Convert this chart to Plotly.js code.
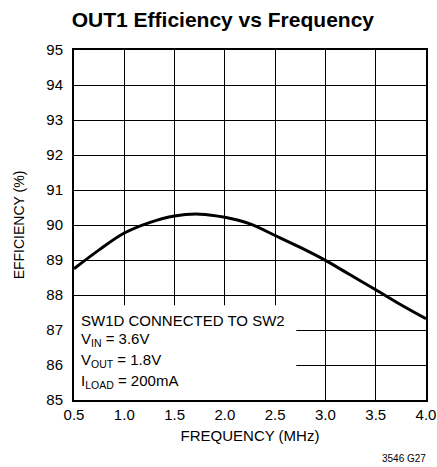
<!DOCTYPE html>
<html>
<head>
<meta charset="utf-8">
<script src="https://cdn.plot.ly/plotly-3.0.1.min.js"></script>
<style>html,body{margin:0;padding:0;background:#fff;}#chart{width:437px;height:467px;}</style>
</head>
<body>
<div id="chart"></div>
<script>
// Data
const frequencyMHz = [0.5, 0.75, 1.0, 1.25, 1.5, 1.75, 2.0, 2.25, 2.5, 2.75, 3.0, 3.25, 3.5, 3.75, 4.0];
const efficiencyPct = [88.75, 89.29, 89.77, 90.07, 90.26, 90.31, 90.22, 90.03, 89.70, 89.36, 88.99, 88.57, 88.15, 87.72, 87.32];
const xTickVals = [0.5, 1.0, 1.5, 2.0, 2.5, 3.0, 3.5, 4.0];
const xTickText = ['0.5', '1.0', '1.5', '2.0', '2.5', '3.0', '3.5', '4.0'];
const yTickVals = [85, 86, 87, 88, 89, 90, 91, 92, 93, 94, 95];
const noteLines = ['SW1D CONNECTED TO SW2', 'V<sub>IN</sub> = 3.6V', 'V<sub>OUT</sub> = 1.8V', 'I<sub>LOAD</sub> = 200mA'];
const noteY = [87.28, 86.74, 86.12, 85.52];

const FONT = '"Liberation Sans", Arial, sans-serif';

const trace = {
  x: frequencyMHz, y: efficiencyPct, type: 'scatter', mode: 'lines',
  line: {color: '#000', width: 3, shape: 'spline', smoothing: 1},
  hoverinfo: 'skip', showlegend: false
};

const annotations = noteLines.map((t, i) => ({
  x: 0.55, y: noteY[i], xref: 'x', yref: 'y', text: t, showarrow: false,
  xanchor: 'left', yanchor: 'middle', font: {family: FONT, size: 15, color: '#000'}
}));
annotations.push({
  x: 1, y: 0, xref: 'paper', yref: 'paper', yshift: -58, xshift: 2, text: '3546 G27', showarrow: false,
  xanchor: 'right', yanchor: 'middle', font: {family: FONT, size: 10, color: '#000'}
});

const layout = {
  width: 437, height: 467,
  margin: {l: 74, r: 11, t: 50, b: 67},
  paper_bgcolor: '#fff', plot_bgcolor: '#fff',
  font: {family: FONT, size: 15, color: '#000'},
  title: {text: '<b>OUT1 Efficiency vs Frequency</b>', x: 0.51, xanchor: 'center', y: 0.957, yanchor: 'middle',
          font: {family: FONT, size: 21, color: '#000'}},
  xaxis: {
    range: [0.5, 4.0], tickvals: xTickVals, ticktext: xTickText, ticks: '',
    showgrid: true, gridcolor: '#000', gridwidth: 1, zeroline: false,
    showline: true, linecolor: '#000', linewidth: 2, mirror: true,
    tickfont: {family: FONT, size: 15, color: '#000'},
    title: {text: 'FREQUENCY (MHz)', font: {family: FONT, size: 15, color: '#000'}, standoff: 8}
  },
  yaxis: {
    range: [85, 95], tickvals: yTickVals, ticks: '', ticklabelstandoff: 6,
    showgrid: true, gridcolor: '#000', gridwidth: 1, zeroline: false,
    showline: true, linecolor: '#000', linewidth: 2, mirror: true,
    tickfont: {family: FONT, size: 15, color: '#000'},
    title: {text: 'EFFICIENCY (%)', font: {family: FONT, size: 14, color: '#000'}, standoff: 18}
  },
  shapes: [{
    type: 'rect', xref: 'x', yref: 'y', x0: 0.5, x1: 2.71, y0: 85, y1: 87.71,
    fillcolor: '#fff', line: {width: 0}, layer: 'between'
  }],
  annotations: annotations
};

Plotly.newPlot('chart', [trace], layout, {displayModeBar: false, staticPlot: true});
</script>
</body>
</html>
